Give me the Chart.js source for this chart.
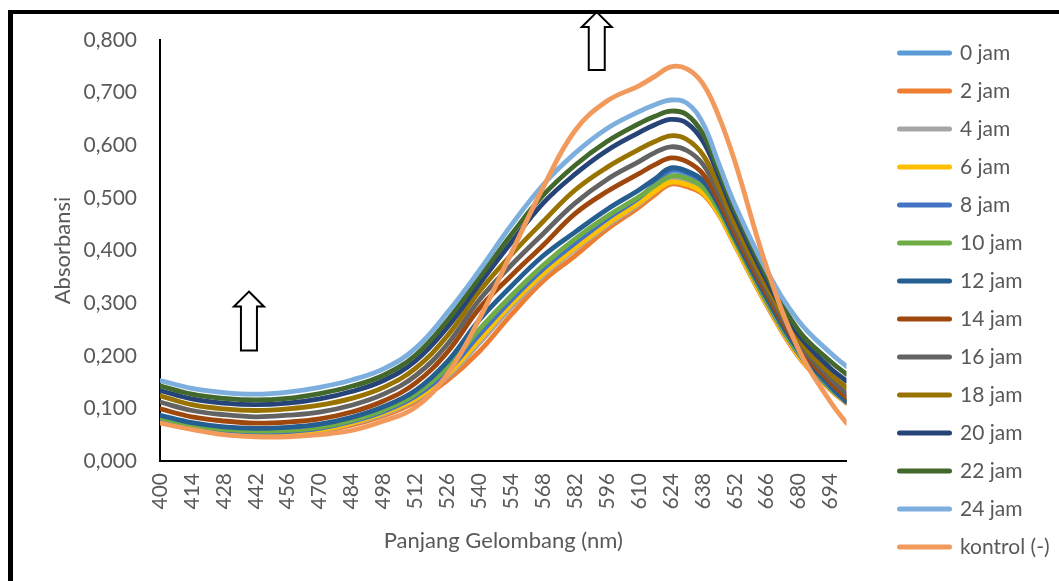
<!DOCTYPE html>
<html>
<head>
<meta charset="utf-8">
<title>Absorbansi</title>
<script src="https://cdn.jsdelivr.net/npm/chart.js@4.4.1/dist/chart.umd.min.js"></script>
<style>
    html, body { margin: 0; padding: 0; background: #fff; overflow: hidden; }
    #wrap { position: relative; width: 1059px; height: 581px; }
    #frame { position: absolute; left: 8px; top: 10px; width: 1100px; height: 620px;
             border-left: 5px solid #000; border-top: 4px solid #000; pointer-events: none; }
</style>
</head>
<body>
<div id="wrap">
    <canvas id="absChart" width="1059" height="581"></canvas>
    <div id="frame"></div>
</div>
<script>
// panjang gelombang (nm)
const wavelengths = [400, 414, 428, 442, 456, 470, 484, 498, 512, 526, 540, 554, 568, 582, 596, 610, 617, 624, 631, 638, 645, 652, 666, 680, 694, 701]
const xTickValues = [400, 414, 428, 442, 456, 470, 484, 498, 512, 526, 540, 554, 568, 582, 596, 610, 624, 638, 652, 666, 680, 694]
const yTickStep = 0.1

const seriesNames = ['0 jam', '2 jam', '4 jam', '6 jam', '8 jam', '10 jam', '12 jam', '14 jam', '16 jam', '18 jam', '20 jam', '22 jam', '24 jam', 'kontrol (-)']
const seriesColors = ['#5b9bd5', '#ed7d31', '#a5a5a5', '#ffc000', '#4472c4', '#70ad47', '#255e91', '#9e480e', '#636363', '#997300', '#264478', '#43682b', '#7cafdd', '#f2995c']

const jam0  = [0.079, 0.065, 0.057, 0.054, 0.055, 0.061, 0.074, 0.093, 0.121, 0.168, 0.237, 0.303, 0.362, 0.411, 0.457, 0.498, 0.525, 0.550, 0.545, 0.527, 0.480, 0.418, 0.302, 0.203, 0.137, 0.111]
const jam2  = [0.075, 0.061, 0.053, 0.050, 0.051, 0.056, 0.068, 0.086, 0.112, 0.153, 0.208, 0.278, 0.342, 0.390, 0.440, 0.482, 0.506, 0.526, 0.521, 0.507, 0.468, 0.410, 0.296, 0.198, 0.135, 0.110]
const jam4  = [0.077, 0.063, 0.055, 0.052, 0.053, 0.058, 0.071, 0.089, 0.116, 0.160, 0.224, 0.292, 0.352, 0.402, 0.447, 0.488, 0.512, 0.534, 0.529, 0.512, 0.470, 0.412, 0.298, 0.200, 0.136, 0.111]
const jam6  = [0.078, 0.064, 0.056, 0.053, 0.054, 0.059, 0.072, 0.091, 0.118, 0.164, 0.230, 0.298, 0.356, 0.405, 0.450, 0.490, 0.512, 0.530, 0.525, 0.510, 0.470, 0.412, 0.298, 0.200, 0.136, 0.111]
const jam8  = [0.080, 0.066, 0.058, 0.055, 0.056, 0.062, 0.075, 0.094, 0.123, 0.171, 0.240, 0.306, 0.365, 0.414, 0.460, 0.500, 0.527, 0.553, 0.548, 0.529, 0.482, 0.420, 0.303, 0.204, 0.138, 0.112]
const jam10 = [0.082, 0.068, 0.060, 0.057, 0.058, 0.064, 0.077, 0.097, 0.127, 0.178, 0.250, 0.314, 0.372, 0.422, 0.465, 0.502, 0.523, 0.541, 0.537, 0.520, 0.477, 0.419, 0.305, 0.206, 0.140, 0.113]
const jam12 = [0.087, 0.073, 0.065, 0.062, 0.064, 0.070, 0.083, 0.103, 0.134, 0.189, 0.268, 0.332, 0.390, 0.435, 0.478, 0.515, 0.536, 0.557, 0.551, 0.533, 0.486, 0.425, 0.310, 0.210, 0.142, 0.113]
const jam14 = [0.099, 0.084, 0.076, 0.072, 0.074, 0.080, 0.093, 0.114, 0.148, 0.207, 0.290, 0.352, 0.410, 0.470, 0.512, 0.546, 0.563, 0.576, 0.569, 0.546, 0.495, 0.433, 0.317, 0.217, 0.149, 0.120]
const jam16 = [0.112, 0.096, 0.088, 0.084, 0.087, 0.093, 0.106, 0.127, 0.162, 0.222, 0.306, 0.372, 0.432, 0.490, 0.535, 0.569, 0.586, 0.597, 0.590, 0.564, 0.508, 0.442, 0.324, 0.223, 0.156, 0.128]
const jam18 = [0.124, 0.107, 0.099, 0.096, 0.099, 0.106, 0.119, 0.140, 0.176, 0.238, 0.322, 0.392, 0.455, 0.515, 0.558, 0.592, 0.607, 0.618, 0.611, 0.582, 0.522, 0.452, 0.332, 0.230, 0.165, 0.140]
const jam20 = [0.134, 0.118, 0.110, 0.107, 0.110, 0.118, 0.132, 0.153, 0.190, 0.254, 0.336, 0.415, 0.490, 0.545, 0.590, 0.624, 0.639, 0.649, 0.642, 0.608, 0.542, 0.468, 0.343, 0.240, 0.176, 0.152]
const jam22 = [0.143, 0.127, 0.119, 0.116, 0.119, 0.128, 0.142, 0.163, 0.201, 0.267, 0.348, 0.430, 0.505, 0.562, 0.607, 0.641, 0.655, 0.665, 0.658, 0.622, 0.552, 0.478, 0.352, 0.248, 0.189, 0.165]
const jam24 = [0.153, 0.138, 0.130, 0.127, 0.131, 0.140, 0.154, 0.175, 0.214, 0.282, 0.362, 0.448, 0.525, 0.585, 0.632, 0.664, 0.677, 0.686, 0.680, 0.642, 0.565, 0.488, 0.362, 0.266, 0.205, 0.180]
const kontrol = [0.072, 0.060, 0.050, 0.046, 0.046, 0.050, 0.058, 0.076, 0.102, 0.165, 0.270, 0.395, 0.520, 0.628, 0.684, 0.713, 0.731, 0.749, 0.745, 0.717, 0.655, 0.570, 0.368, 0.212, 0.112, 0.072]

const seriesValues = [jam0, jam2, jam4, jam6, jam8, jam10, jam12, jam14, jam16, jam18, jam20, jam22, jam24, kontrol]

// panah (arrow) annotations, in data units
const arrowNm = [439, 591.5]
const arrowTip = [0.322, 0.853]
const arrowBase = [0.210, 0.743]

const textColor = '#595959'
const fontFamily = 'Lato, Carlito, Calibri, sans-serif'

const arrowPlugin = {
    id: 'arrows',
    afterDatasetsDraw(chart) {
        const {ctx, scales: {x, y}} = chart
        ctx.save()
        ctx.lineWidth = 2
        ctx.strokeStyle = '#000'
        ctx.fillStyle = '#fff'
        arrowNm.forEach((nm, i) => {
            const cx = x.getPixelForValue(nm)
            const top = y.getPixelForValue(arrowTip[i])
            const bot = y.getPixelForValue(arrowBase[i])
            const head = 15, shaft = 8, headH = 15
            ctx.beginPath()
            ctx.moveTo(cx, top)
            ctx.lineTo(cx + head, top + headH)
            ctx.lineTo(cx + shaft, top + headH)
            ctx.lineTo(cx + shaft, bot)
            ctx.lineTo(cx - shaft, bot)
            ctx.lineTo(cx - shaft, top + headH)
            ctx.lineTo(cx - head, top + headH)
            ctx.closePath()
            ctx.fill()
            ctx.stroke()
        })
        ctx.restore()
    }
}

const datasets = seriesNames.map((name, i) => ({
    label: name,
    data: wavelengths.map((w, k) => ({x: w, y: seriesValues[i][k]})),
    borderColor: seriesColors[i],
    backgroundColor: seriesColors[i],
    borderWidth: 4.8,
    borderCapStyle: 'round',
    borderJoinStyle: 'round',
    pointRadius: 0,
    pointHoverRadius: 0,
    tension: 0.4,
    fill: false,
    order: seriesNames.length - 1 - i
}))

const ctx = document.getElementById('absChart')
new Chart(ctx, {
    type: 'line',
    data: { datasets: datasets },
    plugins: [arrowPlugin],
    options: {
        responsive: false,
        animation: false,
        layout: { padding: { top: 19, left: 0, right: 0, bottom: 0 } },
        plugins: {
            tooltip: { enabled: false },
            legend: {
                position: 'right',
                labels: {
                    usePointStyle: true,
                    pointStyleWidth: 50,
                    padding: 17,
                    color: textColor,
                    font: { family: fontFamily, size: 21 },
                    generateLabels: chart => chart.data.datasets.map((ds, i) => ({
                        text: ds.label,
                        fillStyle: ds.borderColor,
                        strokeStyle: ds.borderColor,
                        fontColor: textColor,
                        lineWidth: 5,
                        lineCap: 'round',
                        pointStyle: 'line',
                        hidden: false,
                        datasetIndex: i
                    }))
                }
            }
        },
        scales: {
            x: {
                type: 'linear',
                min: 400,
                max: 701,
                afterBuildTicks: s => { s.ticks = xTickValues.map(v => ({value: v})) },
                afterFit: s => { s.height = 120 },
                ticks: {
                    autoSkip: false, minRotation: 90, maxRotation: 90, padding: 12,
                    color: textColor, font: { family: fontFamily, size: 21 }
                },
                grid: { display: false, drawTicks: false },
                border: { display: true, color: '#000', width: 2 },
                title: {
                    display: true, text: 'Panjang Gelombang (nm)', color: textColor,
                    font: { family: fontFamily, size: 22 }, padding: { top: 4, bottom: 27 }
                }
            },
            y: {
                min: 0,
                max: 0.8,
                afterFit: s => { s.width = 160; s.paddingTop = 40 },
                ticks: {
                    stepSize: yTickStep, padding: 23, color: textColor,
                    font: { family: fontFamily, size: 21 },
                    callback: v => v.toFixed(3).replace('.', ',')
                },
                grid: { display: false, drawTicks: false },
                border: { display: true, color: '#000', width: 2 },
                title: {
                    display: true, text: 'Absorbansi', color: textColor,
                    font: { family: fontFamily, size: 22 }, padding: { top: 50, bottom: 0 }
                }
            },
            yRight: {
                position: 'right',
                display: true,
                afterFit: s => { s.width = 36 },
                ticks: { display: false },
                grid: { display: false, drawTicks: false },
                border: { display: false }
            }
        }
    }
})
</script>
</body>
</html>
